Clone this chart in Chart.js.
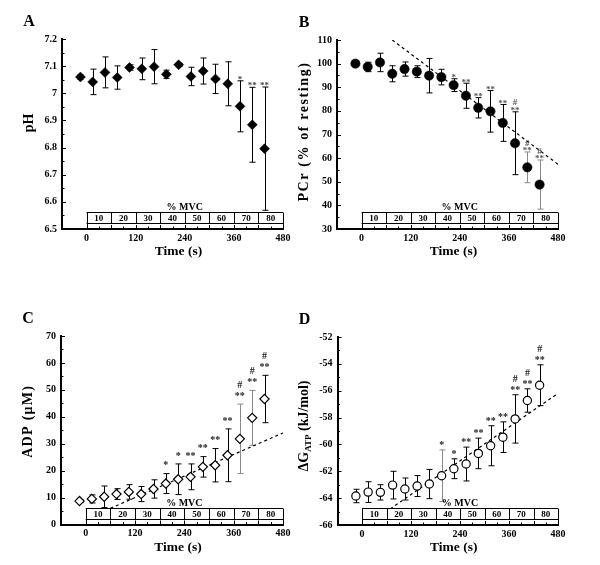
<!DOCTYPE html>
<html><head><meta charset="utf-8">
<script src="https://cdn.jsdelivr.net/npm/chart.js@4"></script>
<style>
html,body{margin:0;padding:0;background:#fff;}
#wrap{position:relative;width:600px;height:565px;overflow:hidden;}
canvas{position:absolute;left:0;top:0;}
</style></head><body>
<div id="wrap">
<canvas id="cA" width="600" height="565" style="width:600px;height:565px"></canvas>
<canvas id="cB" width="600" height="565" style="width:600px;height:565px"></canvas>
<canvas id="cC" width="600" height="565" style="width:600px;height:565px"></canvas>
<canvas id="cD" width="600" height="565" style="width:600px;height:565px"></canvas>
</div>
<script>
const FONT = '"Liberation Serif","Times New Roman",serif';

// ---- data ----
const time = [-15, 15, 45, 75, 105, 135, 165, 195, 225, 255, 285, 315, 345, 375, 405, 435];
const xTicks = [0, 120, 240, 360, 480];
const mvcBounds = [0, 60, 120, 180, 240, 300, 360, 420, 480];
const mvcLabels = ['10', '20', '30', '40', '50', '60', '70', '80'];

const pHMean = [7.06, 7.042, 7.077, 7.058, 7.095, 7.09, 7.098, 7.07, 7.105, 7.062, 7.082, 7.053, 7.035, 6.952, 6.884, 6.796];
const pHErr  = [0.008, 0.047, 0.057, 0.043, 0.01, 0.04, 0.063, 0.015, 0.006, 0.034, 0.048, 0.054, 0.081, 0.094, 0.138, 0.227];
const pHStars = ['', '', '', '', '', '', '', '', '', '', '', '', '', '*', '**', '**'];
const pHHash  = ['', '', '', '', '', '', '', '', '', '', '', '', '', '', '', ''];
const pHTicks = [6.5, 6.6, 6.7, 6.8, 6.9, 7, 7.1, 7.2];
const pHTrendX = [];
const pHTrendY = [];

const pcrMean = [100, 98.6, 100.5, 95.7, 97.7, 96.6, 94.9, 94.3, 90.9, 86.4, 81.3, 79.8, 74.9, 66.3, 56.1, 48.8];
const pcrErr  = [0.6, 2, 3.9, 3.4, 3, 2.5, 7.3, 3.3, 2.7, 5.3, 4.3, 8.8, 7.8, 13.3, 6.5, 10.4];
const pcrStars = ['', '', '', '', '', '', '', '', '*', '**', '**', '**', '**', '**', '**', '**'];
const pcrHash  = ['', '', '', '', '', '', '', '', '', '', '', '', '', '#', '#', '#'];
const pcrTicks = [30, 40, 50, 60, 70, 80, 90, 100, 110];
const pcrTrendX = [75, 480];
const pcrTrendY = [110, 57.4];

const adpMean = [8.7, 9.5, 10.3, 11.3, 12.1, 11.3, 13.2, 15.2, 16.8, 17.7, 21.4, 22, 25.7, 31.8, 39.6, 46.6];
const adpErr  = [0.6, 1.5, 4, 2, 2.7, 2.8, 3.4, 3.7, 5.7, 4.8, 3.8, 6.2, 9.8, 12.9, 10.2, 8.8];
const adpStars = ['', '', '', '', '', '', '', '*', '*', '**', '**', '**', '**', '**', '**', '**'];
const adpHash  = ['', '', '', '', '', '', '', '', '', '', '', '', '', '#', '#', '#'];
const adpTicks = [0, 10, 20, 30, 40, 50, 60, 70];
const adpTrendX = [60, 480];
const adpTrendY = [6, 34];

const dgMean = [-63.84, -63.55, -63.57, -63.03, -63.32, -63.1, -62.95, -62.33, -61.81, -61.46, -60.67, -60.1, -59.46, -58.1, -56.73, -55.59];
const dgErr  = [0.5, 0.77, 0.57, 1.03, 0.82, 0.78, 1.09, 1.92, 0.74, 1.26, 1.14, 1.49, 1.14, 1.8, 0.87, 1.52];
const dgStars = ['', '', '', '', '', '', '', '*', '*', '**', '**', '**', '**', '**', '**', '**'];
const dgHash  = ['', '', '', '', '', '', '', '', '', '', '', '', '', '#', '#', '#'];
const dgTicks = [-66, -64, -62, -60, -58, -56, -54, -52];
const dgTrendX = [69, 480];
const dgTrendY = [-64.8, -56.2];

// ---- drawing ----
function tickList(arr) { return arr.map(v => ({ value: v })); }

function build(id, p) {
  const YW = 40, XH = 30;
  const a = p.area;
  const plugin = {
    id: 'panel' + p.letter,
    beforeDatasetsDraw(chart) {
      const { ctx, scales: { x, y } } = chart;
      ctx.save();
      ctx.lineWidth = 1;
      for (let i = 0; i < time.length; i++) {
        const px = Math.round(x.getPixelForValue(time[i])) + 0.5;
        const top = y.getPixelForValue(p.mean[i] + p.err[i]);
        const bot = y.getPixelForValue(p.mean[i] - p.err[i]);
        ctx.strokeStyle = p.grey.includes(i) ? '#8a8a8a' : '#000';
        ctx.beginPath();
        ctx.moveTo(px, top); ctx.lineTo(px, bot);
        ctx.moveTo(px - 3, top); ctx.lineTo(px + 3, top);
        ctx.moveTo(px - 3, bot); ctx.lineTo(px + 3, bot);
        ctx.stroke();
      }
      ctx.restore();
    },
    afterDatasetsDraw(chart) {
      const { ctx, chartArea: ca, scales: { x, y } } = chart;
      ctx.save();
      // MVC box
      const L = x.getPixelForValue(mvcBounds[0]);
      const R = x.getPixelForValue(mvcBounds[mvcBounds.length - 1]);
      const B = ca.bottom, T = Math.round(B - 17) + 0.5, M = Math.round(B - 6) + 0.5;
      ctx.fillStyle = '#fff';
      ctx.fillRect(L, T, R - L, B - T - 1);
      ctx.strokeStyle = '#000';
      ctx.lineWidth = 1;
      ctx.beginPath();
      ctx.moveTo(L, T); ctx.lineTo(R, T);
      ctx.moveTo(L, M); ctx.lineTo(R, M);
      mvcBounds.forEach((v, k) => {
        const bx = Math.round(x.getPixelForValue(v)) + 0.5;
        ctx.moveTo(bx, T);
        ctx.lineTo(bx, (k === 0 || k === mvcBounds.length - 1) ? B : M);
      });
      ctx.stroke();
      // inward ticks
      ctx.lineWidth = 1;
      ctx.beginPath();
      for (let v = 0; v <= 480; v += 30) {
        const tx = Math.round(x.getPixelForValue(v)) + 0.5;
        const len = (v % 60 === 0) ? 4 : 2.5;
        ctx.moveTo(tx, B); ctx.lineTo(tx, B - len);
      }
      const yt = p.yTicks;
      for (let k = 0; k < yt.length; k++) {
        const ty = Math.round(y.getPixelForValue(yt[k])) + 0.5;
        ctx.moveTo(ca.left, ty); ctx.lineTo(ca.left + 4, ty);
        if (k < yt.length - 1) {
          const my = Math.round(y.getPixelForValue((yt[k] + yt[k + 1]) / 2)) + 0.5;
          ctx.moveTo(ca.left, my); ctx.lineTo(ca.left + 2.5, my);
        }
      }
      ctx.stroke();
      // MVC labels
      ctx.fillStyle = '#000';
      ctx.textAlign = 'center';
      ctx.textBaseline = 'middle';
      ctx.font = 'bold 9px ' + FONT;
      mvcLabels.forEach((s, k) => {
        const cx = (x.getPixelForValue(mvcBounds[k]) + x.getPixelForValue(mvcBounds[k + 1])) / 2;
        ctx.fillText(s, cx, (T + M) / 2 + 0.5);
      });
      ctx.font = 'bold 10px ' + FONT;
      ctx.fillText('% MVC', (L + R) / 2, T - 5.5);
      // significance marks
      ctx.textBaseline = 'alphabetic';
      ctx.font = 'bold ' + p.starSize + 'px ' + FONT;
      ctx.fillStyle = p.starColor;
      for (let i = 0; i < time.length; i++) {
        const px = x.getPixelForValue(time[i]);
        const top = y.getPixelForValue(p.mean[i] + p.err[i]);
        const cy = top - p.starOff;
        if (p.stars[i]) ctx.fillText(p.stars[i], px, cy + 0.48 * p.starSize);
        if (p.hash[i]) ctx.fillText(p.hash[i], px, cy - p.hashGap + 0.35 * p.starSize);
      }
      // axis titles
      ctx.fillStyle = '#000';
      ctx.textBaseline = 'middle';
      ctx.font = 'bold 13.5px ' + FONT;
      ctx.fillText('Time (s)', (ca.left + ca.right) / 2 + 6, ca.bottom + 23);
      ctx.save();
      ctx.translate(ca.left - 33, (ca.top + ca.bottom) / 2 + p.ytDY);
      ctx.rotate(-Math.PI / 2);
      if (p.ySub) {
        const big = 'bold 14px ' + FONT, small = 'bold 9px ' + FONT;
        ctx.font = big; const w1 = ctx.measureText(p.yTitle[0]).width;
        const w3 = ctx.measureText(p.yTitle[2]).width;
        ctx.font = small; const w2 = ctx.measureText(p.yTitle[1]).width;
        let sx = -(w1 + w2 + w3) / 2;
        ctx.textAlign = 'left';
        ctx.font = big; ctx.fillText(p.yTitle[0], sx, 0); sx += w1;
        ctx.font = small; ctx.fillText(p.yTitle[1], sx, 4); sx += w2;
        ctx.font = big; ctx.fillText(p.yTitle[2], sx, 0);
      } else {
        ctx.font = 'bold 14px ' + FONT;
        ctx.letterSpacing = p.ySpacing + 'px';
        ctx.textAlign = 'center';
        ctx.fillText(p.yTitle, 0, 0);
      }
      ctx.restore();
      // panel letter
      ctx.letterSpacing = '0px';
      ctx.font = 'bold 16px ' + FONT;
      ctx.textAlign = 'center';
      ctx.fillText(p.letter, ca.left - 33, ca.top - 17);
      ctx.restore();
    }
  };
  const gridOpts = { display: true, drawOnChartArea: false, drawTicks: false, color: 'rgba(0,0,0,0)' };
  const borderOpts = { display: true, color: '#000', width: 2 };
  const tickFont = { family: FONT, size: 10, weight: 'bold' };
  return new Chart(document.getElementById(id), {
    type: 'scatter',
    data: {
      datasets: [
        { data: p.trendX.map((v, i) => ({ x: v, y: p.trendY[i] })), showLine: true, borderColor: '#000',
          borderWidth: 1.2, borderDash: [3, 3], pointRadius: 0, fill: false, order: 2 },
        { data: time.map((t, i) => ({ x: t, y: p.mean[i] })), showLine: false, pointStyle: p.pointStyle,
          pointRadius: p.r, pointBackgroundColor: p.fill, pointBorderColor: '#000', pointBorderWidth: p.bw, order: 1 }
      ]
    },
    options: {
      responsive: false, animation: false, events: [],
      layout: { padding: { left: a.l - YW, right: 600 - a.r, top: a.t, bottom: 565 - a.b - XH } },
      plugins: { legend: { display: false }, tooltip: { enabled: false } },
      scales: {
        x: {
          type: 'linear', min: -60, max: 480,
          afterBuildTicks: s => { s.ticks = tickList(xTicks); },
          afterFit: s => { s.height = XH; },
          grid: gridOpts, border: borderOpts,
          ticks: { color: '#000', padding: 3, autoSkip: false, maxRotation: 0, font: tickFont }
        },
        y: {
          type: 'linear', min: p.yTicks[0], max: p.yTicks[p.yTicks.length - 1],
          afterBuildTicks: s => { s.ticks = tickList(p.yTicks); },
          afterFit: s => { s.width = YW; },
          grid: gridOpts, border: borderOpts,
          ticks: { color: '#000', padding: 5, autoSkip: false, font: tickFont, callback: v => String(v) }
        }
      }
    },
    plugins: [plugin]
  });
}

build('cA', { letter: 'A', area: { l: 62, r: 283, t: 39, b: 229 }, mean: pHMean, err: pHErr, stars: pHStars, hash: pHHash,
  yTicks: pHTicks, trendX: pHTrendX, trendY: pHTrendY, pointStyle: 'rectRot', r: 5, bw: 0.5, fill: '#000',
  grey: [], starSize: 9, starColor: '#444', starOff: 3.5, hashGap: 7, yTitle: 'pH', ySpacing: 0, ytDY: -11 });
build('cB', { letter: 'B', area: { l: 337, r: 558, t: 40, b: 229 }, mean: pcrMean, err: pcrErr, stars: pcrStars, hash: pcrHash,
  yTicks: pcrTicks, trendX: pcrTrendX, trendY: pcrTrendY, pointStyle: 'circle', r: 4.7, bw: 0.5, fill: '#000',
  grey: [14, 15], starSize: 9, starColor: '#555', starOff: 3, hashGap: 6.5, yTitle: 'PCr (% of resting)', ySpacing: 1.6, ytDY: -3 });
build('cC', { letter: 'C', area: { l: 61, r: 283, t: 336, b: 524.5 }, mean: adpMean, err: adpErr, stars: adpStars, hash: adpHash,
  yTicks: adpTicks, trendX: adpTrendX, trendY: adpTrendY, pointStyle: 'rectRot', r: 4.6, bw: 1.2, fill: '#fff',
  grey: [13, 14], starSize: 10, starColor: '#222', starOff: 10, hashGap: 9.5, yTitle: 'ADP (\u03bcM)', ySpacing: 1.3, ytDY: -9 });
build('cD', { letter: 'D', area: { l: 337.5, r: 558, t: 337, b: 525 }, mean: dgMean, err: dgErr, stars: dgStars, hash: dgHash,
  yTicks: dgTicks, trendX: dgTrendX, trendY: dgTrendY, pointStyle: 'circle', r: 4.1, bw: 1.2, fill: '#fff',
  grey: [7], starSize: 10, starColor: '#222', starOff: 7, hashGap: 9, yTitle: ['\u0394G', 'ATP', ' (kJ/mol)'], ySub: true, ytDY: -5 });
</script>
</body></html>
